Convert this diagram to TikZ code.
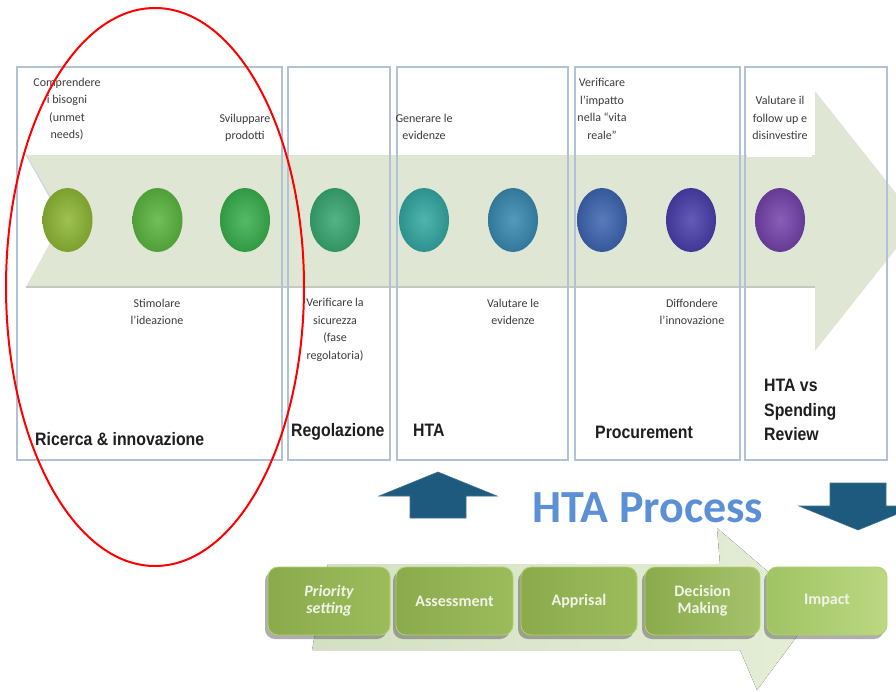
\documentclass[tikz,border=0pt]{standalone}
\usepackage{fontspec}
\setmainfont{Carlito}
\newfontfamily\lblfont[FakeStretch=0.88]{Liberation Sans}
\usetikzlibrary{shapes.geometric,shadows}
\definecolor{arrowgreen}{RGB}{223,230,211}
\definecolor{shaftline}{RGB}{196,203,190}
\definecolor{panelborder}{RGB}{178,194,214}
\definecolor{smalltext}{RGB}{60,60,60}
\definecolor{bigtext}{RGB}{30,30,30}
\definecolor{htablue}{RGB}{91,143,214}
\definecolor{dkblue}{RGB}{30,90,126}
\definecolor{lowL}{RGB}{212,224,196}
\definecolor{lowR}{RGB}{228,238,214}
\definecolor{boxL}{RGB}{138,170,76}
\definecolor{boxR}{RGB}{156,188,92}
\definecolor{boxLL}{RGB}{160,195,100}
\definecolor{boxRR}{RGB}{188,216,130}
\definecolor{boxedge}{RGB}{176,210,110}
\definecolor{boxtext}{RGB}{240,244,232}
\definecolor{c1}{RGB}{141,182,52}
\definecolor{c2}{RGB}{90,180,62}
\definecolor{c3}{RGB}{56,174,76}
\definecolor{c4}{RGB}{55,166,112}
\definecolor{c5}{RGB}{50,166,160}
\definecolor{c6}{RGB}{55,136,176}
\definecolor{c7}{RGB}{60,100,176}
\definecolor{c8}{RGB}{72,62,170}
\definecolor{c9}{RGB}{115,66,170}
\begin{document}
\begin{tikzpicture}[x=1pt,y=-1pt,
  panel/.style={draw=panelborder, line width=1.6pt, rectangle, inner sep=0pt, minimum height=393pt},
  dot/.style={ellipse, inner sep=0pt, minimum width=50pt, minimum height=64pt, inner color=#1!85!white, outer color=#1!88!black},
  small/.style={align=center, inner sep=0pt, text=smalltext, font=\fontsize{12}{17.5}\selectfont},
  big/.style={anchor=west, inner sep=0pt, text=bigtext, font=\lblfont\fontsize{18}{24.5}\selectfont\bfseries},
  proc/.style={rectangle, rounded corners=10pt, minimum height=68pt, inner sep=0pt, draw=boxedge, line width=0.8pt,
     align=center, text=boxtext, font=\fontsize{16}{17}\selectfont\bfseries,
     drop shadow={shadow xshift=-3pt, shadow yshift=-4pt, opacity=0.45, fill=black!70}},
  blockarrow/.style={fill=dkblue, draw=dkblue!85!white, line width=0.6pt}
]
\useasboundingbox (0,0) rectangle (896,691);
\fill[white] (0,0) rectangle (896,691);

% big timeline arrow
\fill[arrowgreen] (26,155) -- (815,155) -- (815,91) -- (918,221) -- (815,351) -- (815,287) -- (26,287) -- (62,221) -- cycle;
\draw[shaftline, line width=1.2pt] (26,287) -- (815,287);
\draw[panelborder!70, line width=0.8pt] (26,155) -- (55,205);

% panels
\node[panel, minimum width=265pt] (p1) at (149.5,263.5) {};
\node[panel, minimum width=102pt] (p2) at (339,263.5) {};
\node[panel, minimum width=171pt] (p3) at (482.5,263.5) {};
\node[panel, minimum width=165pt] (p4) at (657.5,263.5) {};
\node[panel, minimum width=142pt] (p5) at (816,263.5) {};

% circles
\node[dot=c1] (d1) at (67.5,220) {};
\node[dot=c2] (d2) at (157.5,220) {};
\node[dot=c3] (d3) at (245,220) {};
\node[dot=c4] (d4) at (335,220) {};
\node[dot=c5] (d5) at (424,220) {};
\node[dot=c6] (d6) at (513,220) {};
\node[dot=c7] (d7) at (602,220) {};
\node[dot=c8] (d8) at (691,220) {};
\node[dot=c9] (d9) at (780,220) {};

% small texts
\node[small] (t1) at (67,109) {Comprendere\\i bisogni\\(unmet\\needs)};
\node[small] (t2) at (245,128) {Sviluppare\\prodotti};
\node[small] (t3) at (157,312) {Stimolare\\l'ideazione};
\node[small] (t4) at (335,330) {Verificare la\\sicurezza\\(fase\\regolatoria)};
\node[small] (t5) at (424,127) {Generare le\\evidenze};
\node[small] (t6) at (513,312) {Valutare le\\evidenze};
\node[small] (t7) at (602,109) {Verificare\\l'impatto\\nella “vita\\reale”};
\node[small] (t8) at (692,312) {Diffondere\\l'innovazione};
\node[fill=white, inner sep=0pt, minimum width=65pt, minimum height=67pt] (wb) at (779.5,123.5) {};
\node[small] (t9) at (780,118) {Valutare il\\follow up e\\disinvestire};

% big labels
\node[big] (l1) at (35,439) {Ricerca \& innovazione};
\node[big] (l2) at (291,432) {Regolazione};
\node[big] (l3) at (413,430) {HTA};
\node[big] (l4) at (595,432) {Procurement};
\node[big, align=left] (l5) at (764,410) {HTA vs\\Spending\\Review};

% HTA process title and block arrows
\node[inner sep=0pt, text=htablue, font=\fontsize{46}{50}\selectfont\bfseries] (hp) at (648,508) {HTA Process};
\draw[blockarrow] (438,472) -- (497,496) -- (466,496) -- (466,518) -- (410,518) -- (410,496) -- (379,496) -- cycle;
\draw[blockarrow] (830,483) -- (886,483) -- (886,506) -- (917,506) -- (858,530) -- (799,506) -- (830,506) -- cycle;

% lower process arrow
\fill[left color=lowL, right color=lowR] (328,564) -- (720,564) -- (717,528) -- (815,612) -- (757,690) -- (740,650) -- (312,650) -- cycle;

% process boxes
\node[proc, minimum width=122pt, left color=boxL, right color=boxR] (b1) at (329,601) {\itshape Priority\\\itshape setting};
\node[proc, minimum width=117pt, left color=boxL, right color=boxR] (b2) at (454.5,601) {Assessment};
\node[proc, minimum width=116pt, left color=boxL, right color=boxR] (b3) at (579,601) {Apprisal};
\node[proc, minimum width=115pt, left color=boxL, right color=boxR!90!white] (b4) at (702.5,601) {Decision\\Making};
\node[proc, minimum width=120pt, left color=boxLL, right color=boxRR] (b5) at (827,601) {Impact};

% red highlight ellipse
\draw[red, line width=2pt] (155,287) ellipse [x radius=149, y radius=279];
\end{tikzpicture}
\end{document}
